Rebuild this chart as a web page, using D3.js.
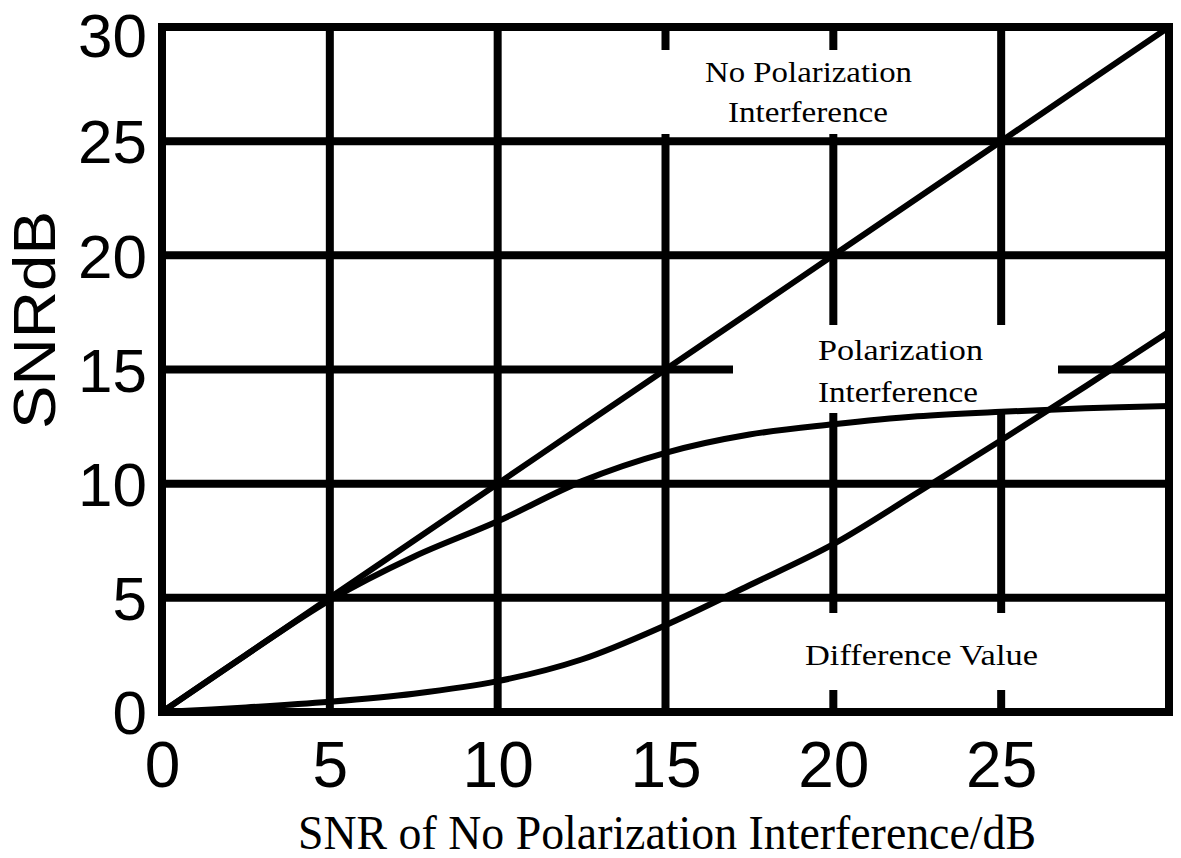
<!DOCTYPE html>
<html>
<head>
<meta charset="utf-8">
<script src="https://cdn.jsdelivr.net/npm/d3@7"></script>
<style>
  body { margin: 0; background: #fff; }
  svg { display: block; }
</style>
</head>
<body>
<div id="chart"></div>
<script>
// valores (SNR sem interferência de polarização, dB)
const snrIn = [0, 2.5, 5, 7.5, 10, 12.5, 15, 17.5, 20, 22.5, 25, 27.5, 30];
const noPolarization = [0, 2.5, 5, 7.5, 10, 12.5, 15, 17.5, 20, 22.5, 25, 27.5, 30];
const polarization = [0, 2.5, 4.9, 6.8, 8.35, 10.1, 11.35, 12.15, 12.6, 12.95, 13.15, 13.3, 13.4];
const difference = [0, 0.2, 0.45, 0.8, 1.35, 2.3, 3.8, 5.55, 7.35, 9.6, 11.9, 14.25, 16.65];

const xTicks = [0, 5, 10, 15, 20, 25];
const yTicks = [0, 5, 10, 15, 20, 25, 30];
const xTitle = "SNR of No Polarization Interference/dB";
const yTitle = "SNRdB";
const labelNoPol = ["No Polarization", "Interference"];
const labelPol = ["Polarization", "Interference"];
const labelDiff = ["Difference Value"];

const width = 1181, height = 858;
const m = { left: 162, right: 1169, top: 27, bottom: 712 };

const svg = d3.select("#chart").append("svg")
  .attr("width", width)
  .attr("height", height)
  .attr("viewBox", `0 0 ${width} ${height}`);

const x = d3.scaleLinear().domain([0, 30]).range([m.left, m.right]);
const y = d3.scaleLinear().domain([0, 30]).range([m.bottom, m.top]);

const sans = "'Liberation Sans', Arial, Helvetica, sans-serif";
const serif = "'Liberation Serif', 'Times New Roman', serif";

// grelha
const grid = svg.append("g").attr("stroke", "#000").attr("stroke-width", 8);
grid.selectAll(".vx")
  .data(xTicks.filter(d => d > 0))
  .join("line")
  .attr("x1", d => x(d)).attr("x2", d => x(d))
  .attr("y1", y(0)).attr("y2", y(30));
grid.selectAll(".hy")
  .data(yTicks.filter(d => d > 0 && d < 30))
  .join("line")
  .attr("x1", x(0)).attr("x2", x(30))
  .attr("y1", d => y(d)).attr("y2", d => y(d));

// caixas brancas por trás das legendas (cortam a grelha)
const boxes = [
  { x0: 640, x1: 991, y0: 50, y1: 134 },
  { x0: 733, x1: 1058, y0: 325, y1: 413 },
  { x0: 700, x1: 1160, y0: 613, y1: 690 }
];
svg.append("g").selectAll("rect")
  .data(boxes)
  .join("rect")
  .attr("x", d => d.x0).attr("y", d => d.y0)
  .attr("width", d => d.x1 - d.x0).attr("height", d => d.y1 - d.y0)
  .attr("fill", "#fff");

// curvas
const series = [noPolarization, polarization, difference];
const line = d3.line()
  .x((d, i) => x(snrIn[i]))
  .y(d => y(d))
  .curve(d3.curveCatmullRom.alpha(0.5));

svg.append("g").selectAll("path")
  .data(series)
  .join("path")
  .attr("d", line)
  .attr("fill", "none")
  .attr("stroke", "#000")
  .attr("stroke-width", 6)
  .attr("stroke-linejoin", "round");

// moldura
svg.append("rect")
  .attr("x", x(0)).attr("y", y(30))
  .attr("width", x(30) - x(0)).attr("height", y(0) - y(30))
  .attr("fill", "none").attr("stroke", "#000").attr("stroke-width", 8);

// eixos (só os números)
const yAxis = svg.append("g")
  .attr("transform", `translate(${x(0)},0)`)
  .call(d3.axisLeft(y).tickValues(yTicks).tickSize(0).tickPadding(15));
yAxis.select(".domain").remove();
yAxis.selectAll("text")
  .attr("font-family", sans).attr("font-size", 62).attr("fill", "#000")
  .attr("dy", d => d === 30 ? "0.48em" : "0.35em");

const xAxis = svg.append("g")
  .attr("transform", `translate(0,${y(0)})`)
  .call(d3.axisBottom(x).tickValues(xTicks).tickSize(0).tickPadding(30));
xAxis.select(".domain").remove();
xAxis.selectAll("text")
  .attr("font-family", sans).attr("font-size", 64).attr("fill", "#000")
  .attr("dy", "0.71em");

// títulos
svg.append("text")
  .attr("transform", `translate(55,${(210 + 430) / 2}) rotate(-90)`)
  .attr("text-anchor", "middle")
  .attr("font-family", sans).attr("font-size", 60)
  .attr("textLength", 218).attr("lengthAdjust", "spacingAndGlyphs")
  .text(yTitle);

svg.append("text")
  .attr("x", 298).attr("y", 849)
  .attr("font-family", serif).attr("font-size", 48)
  .attr("textLength", 738).attr("lengthAdjust", "spacingAndGlyphs")
  .text(xTitle);

// legendas dentro do gráfico
function label(lines, left, baselines, lengths) {
  svg.append("g").selectAll("text")
    .data(lines)
    .join("text")
    .attr("x", (d, i) => left[i])
    .attr("y", (d, i) => baselines[i])
    .attr("font-family", serif).attr("font-size", 29)
    .attr("textLength", (d, i) => lengths[i])
    .attr("lengthAdjust", "spacingAndGlyphs")
    .text(d => d);
}
label(labelNoPol, [705, 728], [82, 122], [207, 160]);
label(labelPol, [818, 818], [360, 402], [165, 160]);
label(labelDiff, [805], [665], [233]);
</script>
</body>
</html>
